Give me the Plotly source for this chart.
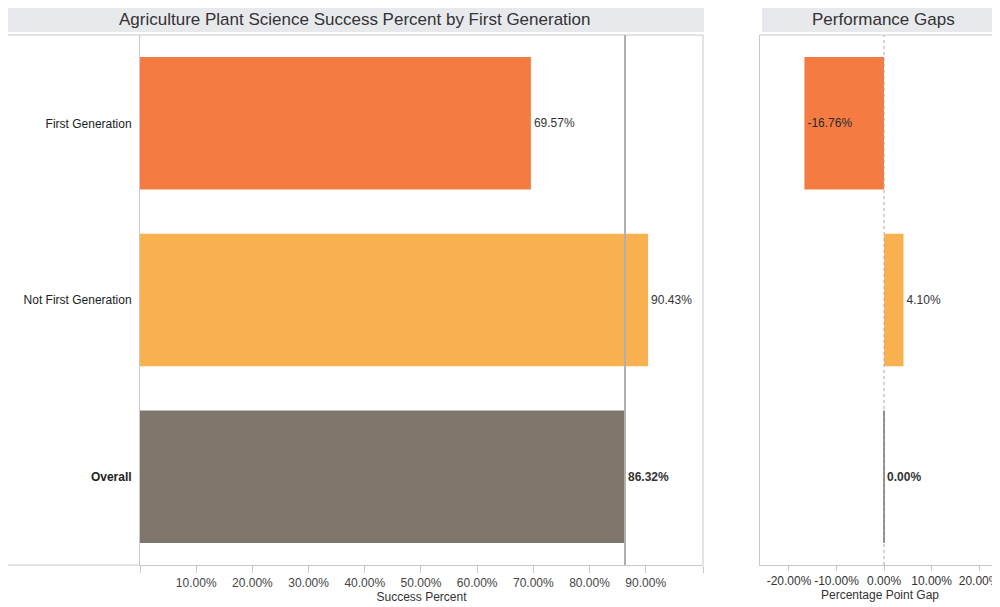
import plotly.graph_objects as go

categories = ["First Generation", "Not First Generation", "Overall"]
success_pct = [69.57, 90.43, 86.32]
gap_pct = [-16.76, 4.10, 0.00]
colors = ["#F47C42", "#F9B04F", "#7F766C"]
left_ticks = [10, 20, 30, 40, 50, 60, 70, 80, 90]
right_ticks = [-20, -10, 0, 10, 20]
main_title = "Agriculture Plant Science Success Percent by First Generation"
gap_title = "Performance Gaps"

FONT = "Arial, Liberation Sans, sans-serif"
OFF = 8  # page body margin
W, H = 1000 - OFF, 607 - OFF


def px_x(p):
    return (p - OFF) / W


def px_y(p):
    return (H - (p - OFF)) / H


def fmt(v):
    return f"{v:.2f}%"


cat_labels = [c if c != "Overall" else "<b>Overall</b>" for c in categories]
left_text = [fmt(v) if c != "Overall" else f"<b>{fmt(v)}</b>" for c, v in zip(categories, success_pct)]
right_text = [fmt(v) if c != "Overall" else f"<b>{fmt(v)}</b>" for c, v in zip(categories, gap_pct)]
right_pos = ["inside" if v < 0 else "outside" for v in gap_pct]

fig = go.Figure()
fig.add_trace(go.Bar(
    y=categories, x=success_pct, orientation="h", width=0.75,
    marker=dict(color=colors, line=dict(width=0)),
    text=left_text, textposition="outside", cliponaxis=False,
    textfont=dict(size=12, color="#333333", family=FONT),
    xaxis="x", yaxis="y", showlegend=False, hoverinfo="skip",
))
fig.add_trace(go.Bar(
    y=categories, x=gap_pct, orientation="h", width=0.75,
    marker=dict(color=colors, line=dict(width=0)),
    text=right_text, textposition=right_pos, insidetextanchor="end",
    cliponaxis=False, constraintext="none",
    textfont=dict(size=12, color="#333333", family=FONT),
    insidetextfont=dict(size=12, color="#2a2a2a", family=FONT),
    outsidetextfont=dict(size=12, color="#333333", family=FONT),
    xaxis="x2", yaxis="y2", showlegend=False, hoverinfo="skip",
))

ydom = [px_y(565), px_y(35)]
line_col = "#c8c8c8"

fig.update_layout(
    width=W, height=H,
    margin=dict(l=0, r=0, t=0, b=0),
    paper_bgcolor="white", plot_bgcolor="white",
    font=dict(family=FONT, size=12, color="#333333"),
    bargap=0.25,
    xaxis=dict(
        domain=[px_x(140), px_x(703)], range=[0, 100.2], anchor="y",
        tickvals=[0] + left_ticks + [100.2],
        ticktext=[""] + [fmt(t) for t in left_ticks] + [""],
        ticks="outside", ticklen=7, tickcolor=line_col,
        showline=True, linecolor=line_col, linewidth=1,
        showgrid=False, zeroline=False,
        tickfont=dict(size=12, color="#444444"),
        title=dict(text="Success Percent", font=dict(size=12, color="#333333"), standoff=3),
    ),
    yaxis=dict(
        domain=ydom, anchor="x",
        categoryorder="array", categoryarray=categories,
        autorange="reversed",
        tickvals=categories, ticktext=cat_labels,
        showline=True, linecolor=line_col, linewidth=1,
        ticks="", ticklabelstandoff=5, showgrid=False, zeroline=False,
        tickfont=dict(size=12, color="#222222"),
    ),
    xaxis2=dict(
        domain=[px_x(760), 1.0], range=[-26.1, 24.4], anchor="y2",
        tickvals=right_ticks, ticktext=[fmt(t) for t in right_ticks],
        ticks="outside", ticklen=5, tickcolor=line_col,
        showline=True, linecolor=line_col, linewidth=1,
        showgrid=False, zeroline=False,
        tickfont=dict(size=12, color="#333333"),
        title=dict(text="Percentage Point Gap", font=dict(size=12, color="#333333"), standoff=3),
    ),
    yaxis2=dict(
        domain=ydom, anchor="x2",
        categoryorder="array", categoryarray=categories,
        autorange="reversed",
        showticklabels=False, showline=True, linecolor=line_col, linewidth=1,
        ticks="", showgrid=False, zeroline=False,
    ),
)

shapes = []
# title bands
shapes.append(dict(type="rect", xref="paper", yref="paper",
                   x0=px_x(5), x1=px_x(704), y0=px_y(32), y1=px_y(6),
                   fillcolor="#E8E9ED", line=dict(width=0), layer="below"))
shapes.append(dict(type="rect", xref="paper", yref="paper",
                   x0=px_x(762), x1=1.0, y0=px_y(32), y1=px_y(6),
                   fillcolor="#E8E9ED", line=dict(width=0), layer="below"))
# left panel frame
shapes.append(dict(type="line", xref="paper", yref="paper",
                   x0=px_x(5), x1=px_x(703), y0=px_y(35), y1=px_y(35),
                   line=dict(color=line_col, width=1)))
shapes.append(dict(type="line", xref="paper", yref="paper",
                   x0=px_x(703), x1=px_x(703), y0=px_y(35), y1=px_y(565),
                   line=dict(color=line_col, width=1)))
shapes.append(dict(type="line", xref="paper", yref="paper",
                   x0=px_x(8), x1=px_x(140), y0=px_y(565), y1=px_y(565),
                   line=dict(color=line_col, width=1)))
# right panel top frame
shapes.append(dict(type="line", xref="paper", yref="paper",
                   x0=px_x(760), x1=1.0, y0=px_y(35), y1=px_y(35),
                   line=dict(color=line_col, width=1)))
# reference line at overall value
overall_val = success_pct[categories.index("Overall")]
shapes.append(dict(type="line", xref="x", yref="y domain",
                   x0=overall_val, x1=overall_val, y0=0, y1=1,
                   line=dict(color="#b0b0b0", width=2)))
# dotted zero line in gap panel
shapes.append(dict(type="line", xref="x2", yref="y2 domain",
                   x0=0, x1=0, y0=0, y1=1,
                   line=dict(color="#aaaaaa", width=1, dash="dot")))
# zero-width overall gap bar drawn as thin line
oi = categories.index("Overall")
shapes.append(dict(type="line", xref="x2", yref="y2",
                   x0=gap_pct[oi], x1=gap_pct[oi], y0=oi - 0.375, y1=oi + 0.375,
                   line=dict(color=colors[oi], width=1.5)))
fig.update_layout(shapes=shapes)

fig.add_annotation(text=main_title, xref="paper", yref="paper",
                   x=px_x(355), y=px_y(19), showarrow=False,
                   xanchor="center", yanchor="middle",
                   font=dict(size=17, color="#333333", family=FONT))
fig.add_annotation(text=gap_title, xref="paper", yref="paper",
                   x=px_x(883), y=px_y(19), showarrow=False,
                   xanchor="center", yanchor="middle",
                   font=dict(size=17, color="#333333", family=FONT))

fig.write_html("out.html")
